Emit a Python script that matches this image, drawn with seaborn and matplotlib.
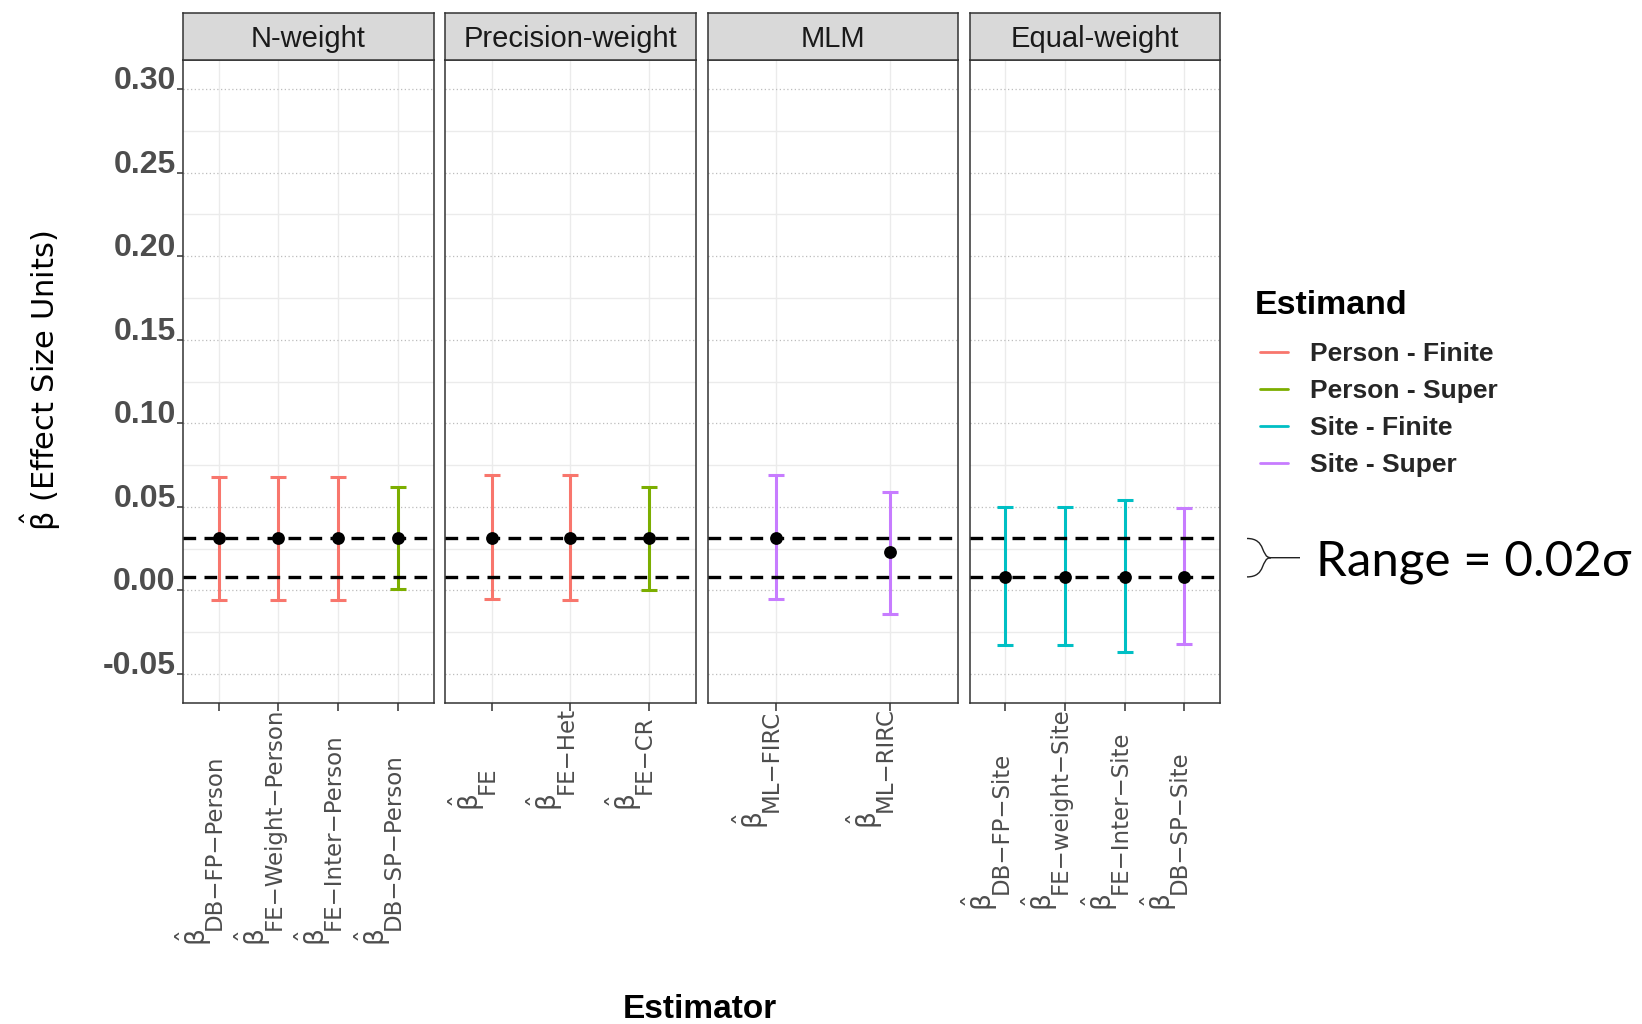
import numpy as np
import pandas as pd
import matplotlib
matplotlib.use("Agg")
import matplotlib.pyplot as plt
import seaborn as sns
import matplotlib.transforms as mtransforms
from matplotlib.lines import Line2D
from matplotlib.path import Path
from matplotlib.patches import PathPatch

# ---------------- data ----------------
panels = ["N-weight", "Precision-weight", "MLM", "Equal-weight"]
panel_of = ["N-weight"] * 4 + ["Precision-weight"] * 3 + ["MLM"] * 2 + ["Equal-weight"] * 4
estimator_sub = ["DB\u2212FP\u2212Person", "FE\u2212Weight\u2212Person", "FE\u2212Inter\u2212Person", "DB\u2212SP\u2212Person",
                 "FE", "FE\u2212Het", "FE\u2212CR",
                 "ML\u2212FIRC", "ML\u2212RIRC",
                 "DB\u2212FP\u2212Site", "FE\u2212weight\u2212Site", "FE\u2212Inter\u2212Site", "DB\u2212SP\u2212Site"]
estimand = ["Person - Finite", "Person - Finite", "Person - Finite", "Person - Super",
            "Person - Finite", "Person - Finite", "Person - Super",
            "Site - Super", "Site - Super",
            "Site - Finite", "Site - Finite", "Site - Finite", "Site - Super"]
estimate = [0.031, 0.031, 0.031, 0.031,
            0.031, 0.031, 0.031,
            0.031, 0.023,
            0.008, 0.008, 0.008, 0.008]
ci_low = [-0.006, -0.006, -0.006, 0.0005,
          -0.005, -0.006, 0.0004,
          -0.005, -0.014,
          -0.033, -0.033, -0.037, -0.032]
ci_high = [0.068, 0.068, 0.068, 0.062,
           0.069, 0.069, 0.062,
           0.069, 0.059,
           0.050, 0.050, 0.054, 0.049]
ref_lines = [0.031, 0.008]
estimand_levels = ["Person - Finite", "Person - Super", "Site - Finite", "Site - Super"]
y_ticks = [-0.05, 0.00, 0.05, 0.10, 0.15, 0.20, 0.25, 0.30]
y_tick_labels = ["-0.05", "0.00", "0.05", "0.10", "0.15", "0.20", "0.25", "0.30"]
y_minor = [-0.025, 0.025, 0.075, 0.125, 0.175, 0.225, 0.275]
y_limits = (-0.0675, 0.3175)

df = pd.DataFrame({"panel": panel_of, "sub": estimator_sub, "estimand": estimand,
                   "estimate": estimate, "low": ci_low, "high": ci_high})
df["pos"] = df.groupby("panel", sort=False).cumcount()

# ---------------- style ----------------
sns.set_theme(style="white")
plt.rcParams["font.family"] = ["Liberation Sans", "DejaVu Sans"]
plt.rcParams["mathtext.fontset"] = "dejavusans"
plt.rcParams["mathtext.default"] = "regular"

palette = dict(zip(estimand_levels, ["#F8766D", "#7CAE00", "#00BFC4", "#C77CFF"]))

W, H = 1642, 1024
PANEL_X = [183, 445, 707.5, 969.5]
PANEL_W = 250.5
PANEL_TOP, PANEL_BOT, STRIP_TOP = 60, 703, 13
BORDER = "#333333"

fig = plt.figure(figsize=(W / 100, H / 100), dpi=100)
fig.patch.set_facecolor("white")

def fx(px):
    return px / W

def fy(py):
    return 1 - py / H

axes = []
for i, p in enumerate(panels):
    ax = fig.add_axes([fx(PANEL_X[i]), fy(PANEL_BOT), PANEL_W / W, (PANEL_BOT - PANEL_TOP) / H])
    sax = fig.add_axes([fx(PANEL_X[i]), fy(PANEL_TOP), PANEL_W / W, (PANEL_TOP - STRIP_TOP) / H])
    axes.append(ax)
    sub = df[df.panel == p]
    n = len(sub)

    ax.set_facecolor("white")
    ax.set_xlim(-0.6, n - 1 + 0.6)
    ax.set_ylim(*y_limits)
    ax.set_yticks(y_ticks)
    ax.set_yticks(y_minor, minor=True)
    ax.set_xticks(range(n))
    ax.set_xticklabels([])
    ax.grid(which="major", axis="y", color="#BDBDBD", linestyle=(0, (1, 2)), linewidth=0.9)
    ax.grid(which="minor", axis="y", color="#EBEBEB", linestyle="-", linewidth=1.0)
    ax.grid(which="major", axis="x", color="#EBEBEB", linestyle="-", linewidth=1.0)
    ax.set_axisbelow(True)
    ax.tick_params(which="minor", length=0)
    ax.tick_params(axis="x", which="major", length=5.5, width=1.1, color=BORDER, bottom=True)
    for s in ax.spines.values():
        s.set_color(BORDER)
        s.set_linewidth(1.1)
    if i == 0:
        ax.tick_params(axis="y", which="major", length=4.3, width=1.1, color=BORDER, left=True,
                       pad=1.0, labelsize=23, labelcolor="#4D4D4D")
        ax.set_yticklabels(y_tick_labels, fontweight="bold", va="baseline")
    else:
        ax.tick_params(axis="y", which="both", left=False, labelleft=False)

    for _, row in sub.iterrows():
        ax.errorbar(row["pos"], row["estimate"],
                    yerr=[[row["estimate"] - row["low"]], [row["high"] - row["estimate"]]],
                    fmt="none", ecolor=palette[row["estimand"]], elinewidth=2.2,
                    capsize=5.5, capthick=2.2, zorder=3)
    for v in ref_lines:
        ax.axhline(v, color="black", linewidth=2.4, linestyle=(0, (3.8, 2.5)), zorder=4)
    sns.scatterplot(data=sub, x="pos", y="estimate", color="black", s=85, linewidth=0,
                    zorder=5, ax=ax, legend=False)
    ax.set_xlabel("")
    ax.set_ylabel("")

    # strip
    sax.set_facecolor("#D9D9D9")
    sax.set_xticks([])
    sax.set_yticks([])
    for s in sax.spines.values():
        s.set_color(BORDER)
        s.set_linewidth(1.1)
    sax.text(0.5, 0.45, p, transform=sax.transAxes, ha="center", va="center",
             fontsize=21, color="#1A1A1A")

# ---------------- x tick labels (beta-hat + subscript), bottom aligned per panel ----------------
fig.canvas.draw()
rend = fig.canvas.get_renderer()
LABEL_TOP = H - 707  # display pixels from bottom
for i, p in enumerate(panels):
    ax = axes[i]
    sub = df[df.panel == p]
    base = mtransforms.blended_transform_factory(ax.transData, mtransforms.IdentityTransform())
    made = []
    for _, row in sub.iterrows():
        tb = ax.text(row["pos"], 0, r"$\hat{\beta}$", rotation=90, rotation_mode="anchor",
                     ha="left", va="baseline", fontsize=19, family="DejaVu Sans", color="#4D4D4D",
                     transform=base + mtransforms.Affine2D().translate(-13, 0), clip_on=False)
        ts = ax.text(row["pos"], 0, row["sub"], rotation=90, rotation_mode="anchor",
                     ha="left", va="baseline", fontsize=16.5, family="DejaVu Sans", color="#4D4D4D",
                     transform=base + mtransforms.Affine2D().translate(2, 0), clip_on=False)
        lb = tb.get_window_extent(rend).height
        ls = ts.get_window_extent(rend).height
        made.append((tb, ts, lb, ls, row["pos"]))
    maxlen = max(m[2] + m[3] for m in made)
    bottom = LABEL_TOP - maxlen
    for tb, ts, lb, ls, pos in made:
        tb.set_position((pos, bottom))
        ts.set_position((pos, bottom + lb))

# ---------------- titles ----------------
fig.text(fx(41), fy(381), r"$\hat{\beta}$ (Effect Size Units)", rotation=90, ha="center",
         va="center", fontsize=22, family="DejaVu Sans", color="black")
fig.text(fx(700), fy(1009), "Estimator", ha="center", va="center", fontsize=24,
         fontweight="bold", color="black")

# ---------------- legend ----------------
fig.text(fx(1255), fy(305), "Estimand", ha="left", va="center", fontsize=24.5,
         fontweight="bold", color="black")
handles = [Line2D([0], [0], color=palette[k], lw=2.0) for k in estimand_levels]
leg = fig.legend(handles, estimand_levels, loc="upper left",
                 bbox_to_anchor=(fx(1247), fy(329)), frameon=False, borderpad=0,
                 handlelength=1.05, handletextpad=0.85, labelspacing=0.49,
                 prop={"size": 19, "weight": "bold"})

# ---------------- range brace annotation ----------------
last = axes[-1]
btrans = mtransforms.blended_transform_factory(mtransforms.IdentityTransform(), last.transData)
x0 = 1247
ytop, ybot = ref_lines
ymid = (ytop + ybot) / 2
verts = [(x0, ytop), (x0 + 20, ytop), (x0 + 13, ymid), (x0 + 24, ymid),
         (x0 + 13, ymid), (x0 + 20, ybot), (x0, ybot),
         (x0 + 24, ymid), (x0 + 53, ymid)]
codes = [Path.MOVETO, Path.CURVE4, Path.CURVE4, Path.CURVE4,
         Path.CURVE4, Path.CURVE4, Path.CURVE4,
         Path.MOVETO, Path.LINETO]
brace = PathPatch(Path(verts, codes), transform=btrans, facecolor="none",
                  edgecolor="#222222", linewidth=1.0, clip_on=False)
fig.add_artist(brace)
fig.text(fx(1316), fy(575), "Range = 0.02\u03c3", ha="left", va="baseline", fontsize=35.5,
         family=["Lato", "DejaVu Sans"], color="black")

fig.savefig("out.png", dpi=100)
